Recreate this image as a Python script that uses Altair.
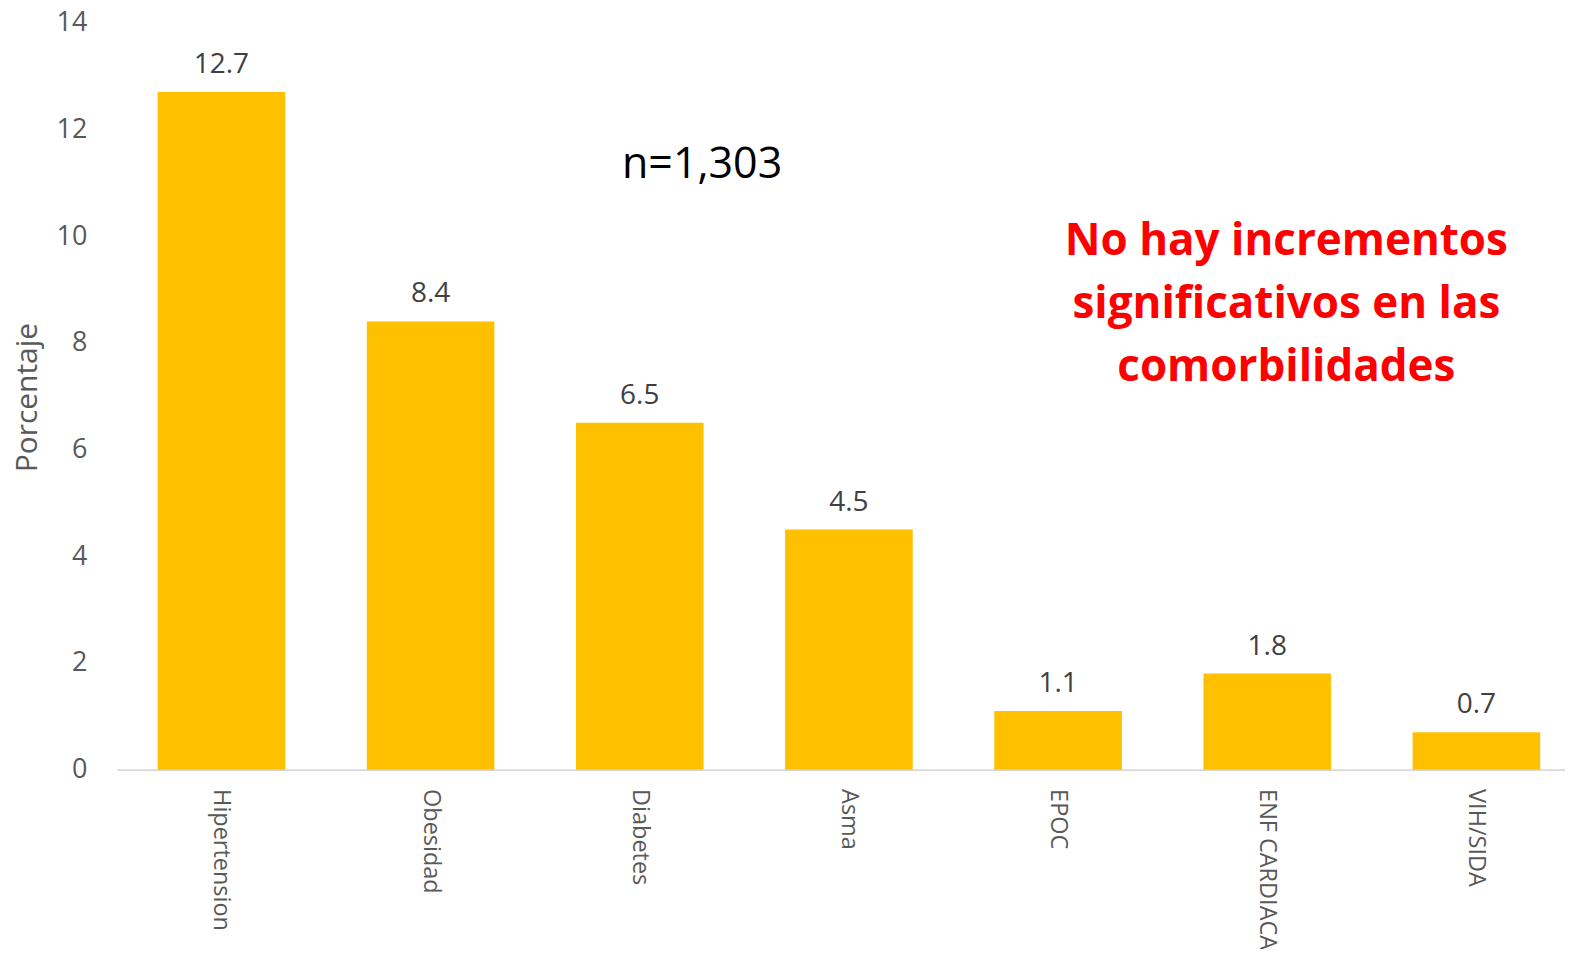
import altair as alt
import pandas as pd

categories = ["Hipertension", "Obesidad", "Diabetes", "Asma", "EPOC", "ENF CARDIACA", "VIH/SIDA"]
values = [12.7, 8.4, 6.5, 4.5, 1.1, 1.8, 0.7]
y_ticks = [0, 2, 4, 6, 8, 10, 12, 14]
note_n = "n=1,303"
note_red = ["No hay incrementos", "significativos en las", "comorbilidades"]

df = pd.DataFrame({"cat": categories, "val": values})
FONT = "Open Sans"
GRAY = "#595959"

x_enc = alt.X("cat:N", sort=categories, title=None,
              scale=alt.Scale(paddingInner=0.39, paddingOuter=0.195, range=[0, 1466]),
              axis=alt.Axis(labelAngle=90, labelAlign="left", labelBaseline="middle",
                            labelPadding=19, labelFont=FONT, labelFontSize=23.5,
                            labelColor=GRAY, ticks=False, domainColor="#D9D9D9",
                            domainWidth=2, labelLimit=300))
y_enc = alt.Y("val:Q", title="Porcentaje",
              scale=alt.Scale(domain=[0, 14], nice=False),
              axis=alt.Axis(values=y_ticks, grid=False, ticks=False, domain=False,
                            labelFont=FONT, labelFontSize=27, labelColor=GRAY,
                            labelPadding=30, titleFont=FONT, titleFontSize=30,
                            titleFontWeight="normal", titleColor=GRAY,
                            titleAngle=270, titleAlign="center", titleBaseline="middle",
                            titleX=-89, titleY=375))

bars = alt.Chart(df).mark_bar(color="#FFC000").encode(x=x_enc, y=y_enc)
labels = alt.Chart(df).mark_text(font=FONT, fontSize=28, color="#404040",
                                 baseline="alphabetic", dy=-19).encode(
    x=alt.X("cat:N", sort=categories), y="val:Q", text=alt.Text("val:Q", format=".1f"))

n_text = alt.Chart(pd.DataFrame({"t": [note_n]})).mark_text(
    font=FONT, fontSize=43, color="black", align="center", baseline="middle").encode(
    x=alt.value(586), y=alt.value(143), text="t:N")

red_text = alt.Chart(pd.DataFrame({"t": [0]})).mark_text(
    font=FONT, fontSize=44, fontWeight="bold", color="#FF0000", align="center",
    baseline="middle", lineHeight=63, text=note_red).encode(
    x=alt.value(1171), y=alt.value(220))

chart = alt.layer(bars, labels, n_text, red_text).properties(
    width=1450, height=748,
    autosize=alt.AutoSizeParams(type="none"),
    padding={"left": 109, "top": 14, "right": 0, "bottom": 179},
).configure_view(stroke=None)

chart.save("out.html", embed_options={"renderer": "svg", "actions": False})
